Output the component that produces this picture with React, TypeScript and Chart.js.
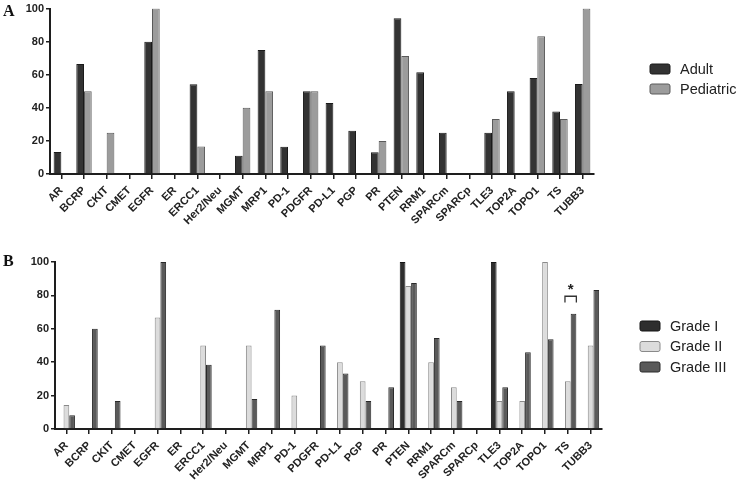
import React, { useEffect, useRef } from "react";
import { Chart, registerables } from "chart.js";

Chart.register(...registerables);

const categories = ["AR","BCRP","CKIT","CMET","EGFR","ER","ERCC1","Her2/Neu","MGMT","MRP1","PD-1","PDGFR","PD-L1","PGP","PR","PTEN","RRM1","SPARCm","SPARCp","TLE3","TOP2A","TOPO1","TS","TUBB3"];

const adult = [13.3,66.5,0,0,80,0,54.3,0,11,75,16.5,50,42.9,26.2,13.2,94.2,61.5,25,0,25,50,58,37.8,54.4];
const pediatric = [0,50,25,0,100,0,16.7,0,40,50,0,50,0,0,20,71.4,0,0,0,33.3,0,83.3,33.3,100];

const gradeI = [0,0,0,0,0,0,0,0,0,0,0,0,0,0,0,100,0,0,0,100,0,0,0,0];
const gradeII = [14.3,0,0,0,66.7,0,50,0,50,0,20,0,40,28.6,0,85.7,40,25,0,16.7,16.7,100,28.6,50];
const gradeIII = [8.3,60,16.7,0,100,0,38.5,0,18,71.4,0,50,33.3,16.7,25,87.5,54.5,16.7,0,25,46,53.8,69,83.3];

const yTicks = [0,20,40,60,80,100];

const FONT = "'Liberation Sans', Arial, sans-serif";
const AXIS = "#1e1e1e";

type LegendItem = { label: string; fill: string; stroke: string };

function legendPlugin(items: LegendItem[], x: number, y: number, gap: number) {
  return {
    id: "customLegend",
    afterDraw(chart: any) {
      const ctx = chart.ctx;
      ctx.save();
      items.forEach((it, i) => {
        const yy = y + i * gap;
        ctx.beginPath();
        const r = 2;
        const w = 20, h = 10;
        ctx.moveTo(x + r, yy);
        ctx.arcTo(x + w, yy, x + w, yy + h, r);
        ctx.arcTo(x + w, yy + h, x, yy + h, r);
        ctx.arcTo(x, yy + h, x, yy, r);
        ctx.arcTo(x, yy, x + w, yy, r);
        ctx.closePath();
        ctx.fillStyle = it.fill;
        ctx.fill();
        ctx.lineWidth = 1;
        ctx.strokeStyle = it.stroke;
        ctx.stroke();
        ctx.fillStyle = "#222";
        ctx.font = `14.5px ${FONT}`;
        ctx.textBaseline = "middle";
        ctx.textAlign = "left";
        ctx.fillText(it.label, x + 30, yy + h / 2 + 0.5);
      });
      ctx.restore();
    },
  };
}

const starPlugin = {
  id: "star",
  afterDatasetsDraw(chart: any) {
    const idx = categories.indexOf("TS");
    const b2 = chart.getDatasetMeta(1).data[idx];
    const b3 = chart.getDatasetMeta(2).data[idx];
    if (!b2 || !b3) return;
    const x1 = b2.x - b2.width / 2;
    const x2 = b3.x + b3.width / 2;
    const ys = chart.scales.y;
    const top = ys.getPixelForValue(79.5);
    const leg = ys.getPixelForValue(75.8);
    const ctx = chart.ctx;
    ctx.save();
    ctx.strokeStyle = "#333";
    ctx.lineWidth = 1.3;
    ctx.beginPath();
    ctx.moveTo(x1, leg);
    ctx.lineTo(x1, top);
    ctx.lineTo(x2, top);
    ctx.lineTo(x2, leg);
    ctx.stroke();
    ctx.fillStyle = "#222";
    ctx.font = `bold 15px ${FONT}`;
    ctx.textAlign = "center";
    ctx.textBaseline = "middle";
    ctx.fillText("*", (x1 + x2) / 2, ys.getPixelForValue(84.5) + 2);
    ctx.restore();
  },
};

function makeOptions(yWidth: number, xHeight: number, pad: any, catPct: number) {
  return {
    responsive: false,
    animation: false,
    maintainAspectRatio: false,
    layout: { padding: pad },
    plugins: { legend: { display: false }, tooltip: { enabled: false } },
    datasets: { bar: { categoryPercentage: catPct, barPercentage: 1 } },
    scales: {
      x: {
        type: "category",
        offset: true,
        afterFit(s: any) { s.height = xHeight; },
        grid: { display: true, offset: false, drawOnChartArea: false, drawTicks: true, tickLength: 5, color: AXIS, lineWidth: 1.5 },
        border: { display: true, color: AXIS, width: 2 },
        ticks: { autoSkip: false, minRotation: 45, maxRotation: 45, padding: 5, color: "#222", font: { family: FONT, size: 11, weight: "bold" } },
      },
      y: {
        min: 0,
        max: 100,
        afterFit(s: any) { s.width = yWidth; },
        afterBuildTicks(s: any) { s.ticks = yTicks.map((v) => ({ value: v })); },
        grid: { display: true, drawOnChartArea: false, drawTicks: true, tickLength: 4, color: AXIS, lineWidth: 1.5 },
        border: { display: true, color: AXIS, width: 2 },
        ticks: { padding: 2, color: "#222", font: { family: FONT, size: 11, weight: "bold" } },
      },
    },
  };
}

export default function App() {
  const refA = useRef<HTMLCanvasElement>(null);
  const refB = useRef<HTMLCanvasElement>(null);

  useEffect(() => {
    const chartA = new Chart(refA.current as HTMLCanvasElement, {
      type: "bar",
      data: {
        labels: categories,
        datasets: [
          { label: "Adult", data: adult, backgroundColor: "#333333", borderColor: "#1a1a1a", borderWidth: 1 },
          { label: "Pediatric", data: pediatric, backgroundColor: "#9c9c9c", borderColor: "#5a5a5a", borderWidth: 1 },
        ],
      },
      options: makeOptions(50, 58, { top: 7, right: 146, left: 0, bottom: 0 }, 0.68) as any,
      plugins: [legendPlugin([
        { label: "Adult", fill: "#333333", stroke: "#1a1a1a" },
        { label: "Pediatric", fill: "#9c9c9c", stroke: "#5a5a5a" },
      ], 650, 64, 20)],
    });
    const chartB = new Chart(refB.current as HTMLCanvasElement, {
      type: "bar",
      data: {
        labels: categories,
        datasets: [
          { label: "Grade I", data: gradeI, backgroundColor: "#2e2e2e", borderColor: "#151515", borderWidth: 1 },
          { label: "Grade II", data: gradeII, backgroundColor: "#dcdcdc", borderColor: "#8a8a8a", borderWidth: 1 },
          { label: "Grade III", data: gradeIII, backgroundColor: "#5a5a5a", borderColor: "#2a2a2a", borderWidth: 1 },
        ],
      },
      options: makeOptions(55, 57, { top: 30, right: 138, left: 0, bottom: 0 }, 0.75) as any,
      plugins: [starPlugin, legendPlugin([
        { label: "Grade I", fill: "#2e2e2e", stroke: "#151515" },
        { label: "Grade II", fill: "#dcdcdc", stroke: "#8a8a8a" },
        { label: "Grade III", fill: "#5a5a5a", stroke: "#2a2a2a" },
      ], 640, 89, 20.5)],
    });
    return () => { chartA.destroy(); chartB.destroy(); };
  }, []);

  const letter: React.CSSProperties = {
    position: "absolute",
    left: 3,
    fontFamily: "'Liberation Serif', 'Times New Roman', serif",
    fontWeight: "bold",
    fontSize: 16,
    color: "#111",
    lineHeight: "16px",
  };

  return (
    <div style={{ position: "fixed", left: 0, top: 0, width: 740, height: 486, background: "#fff", overflow: "hidden" }}>
      <canvas ref={refA} width={740} height={232} style={{ position: "absolute", left: 0, top: 0, width: 740, height: 232 }} />
      <canvas ref={refB} width={740} height={254} style={{ position: "absolute", left: 0, top: 232, width: 740, height: 254 }} />
      <div style={{ ...letter, top: 3 }}>A</div>
      <div style={{ ...letter, top: 253 }}>B</div>
    </div>
  );
}
